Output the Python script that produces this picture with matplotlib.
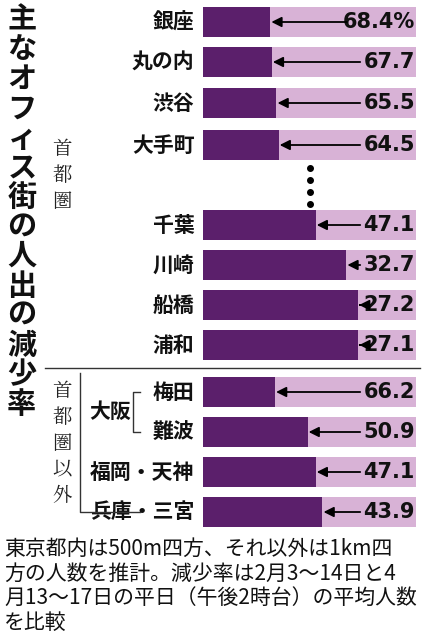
import matplotlib
matplotlib.use("Agg")
import matplotlib.pyplot as plt

plt.rcParams['font.family'] = ['Noto Sans CJK JP', 'DejaVu Sans']

places = ["銀座", "丸の内", "渋谷", "大手町", "千葉", "川崎", "船橋", "浦和", "梅田", "難波", "福岡・天神", "兵庫・三宮"]
rates = [68.4, 67.7, 65.5, 64.5, 47.1, 32.7, 27.2, 27.1, 66.2, 50.9, 47.1, 43.9]
value_labels = ["68.4%", "67.7", "65.5", "64.5", "47.1", "32.7", "27.2", "27.1", "66.2", "50.9", "47.1", "43.9"]
ypos = [22, 62, 103, 145, 225, 265, 305, 345, 392, 432, 472, 512]

W, H = 428, 640
fig = plt.figure(figsize=(W/100, H/100), dpi=100)
ax = fig.add_axes([203/W, 1-540/H, (416-203)/W, 540/H])
ax.set_xlim(0, 100)
ax.set_ylim(540, 0)
ax.axis('off')

dark = "#5b1f6b"
light = "#d8b2d6"
for y, r, lab, name in zip(ypos, rates, value_labels, places):
    rem = 100 - r
    ax.barh(y, rem, height=30, left=0, color=dark)
    ax.barh(y, r, height=30, left=rem, color=light)
    ax.text(99.5, y, lab, ha='right', va='center', fontsize=15, fontweight='bold', color='#111', family='DejaVu Sans')
    tail = 100 - (len(lab) * 6.3 + 1)
    ax.annotate("", xy=(rem + 0.5, y), xytext=(tail, y),
                arrowprops=dict(arrowstyle='-|>,head_length=0.6,head_width=0.3', color='black', lw=1.3, shrinkA=0, shrinkB=0))
    ax.text(-4, y, name, ha='right', va='center', fontsize=15, fontweight='bold', color='#111', clip_on=False)

for yy in (168, 180, 192, 204):
    ax.plot(50, yy, 'o', color='black', ms=4, clip_on=False)

def fx(px): return px / W
def fy(py): return 1 - py / H

title = "主なオフィス街の人出の減少率"
for i, ch in enumerate(title):
    fig.text(fx(22), fy(20 + i * 29.5), ch, ha='center', va='center', fontsize=21, fontweight='bold', color='#111')

for i, ch in enumerate("首都圏"):
    fig.text(fx(62), fy(150 + i * 26), ch, ha='center', va='center', fontsize=14, color='#222', family=['Noto Serif CJK JP', 'Noto Sans CJK JP'])
for i, ch in enumerate("首都圏以外"):
    fig.text(fx(62), fy(392 + i * 26), ch, ha='center', va='center', fontsize=14, color='#222', family=['Noto Serif CJK JP', 'Noto Sans CJK JP'])
fig.text(fx(110), fy(412), "大阪", ha='center', va='center', fontsize=15, fontweight='bold', color='#111')

fig.add_artist(plt.Line2D([fx(45), fx(420)], [fy(368), fy(368)], color='#333', lw=1))
fig.add_artist(plt.Line2D([fx(80), fx(80), fx(140)], [fy(373), fy(512), fy(512)], color='#333', lw=1))
fig.add_artist(plt.Line2D([fx(140), fx(133), fx(133), fx(140)], [fy(392), fy(392), fy(432), fy(432)], color='#333', lw=1))

foot = "東京都内は500m四方、それ以外は1km四\n方の人数を推計。減少率は2月3～14日と4\n月13～17日の平日（午後2時台）の平均人数\nを比較"
fig.text(fx(4), fy(538), foot, ha='left', va='top', fontsize=15, color='#111', linespacing=1.15)

fig.savefig("out.png", dpi=100)
